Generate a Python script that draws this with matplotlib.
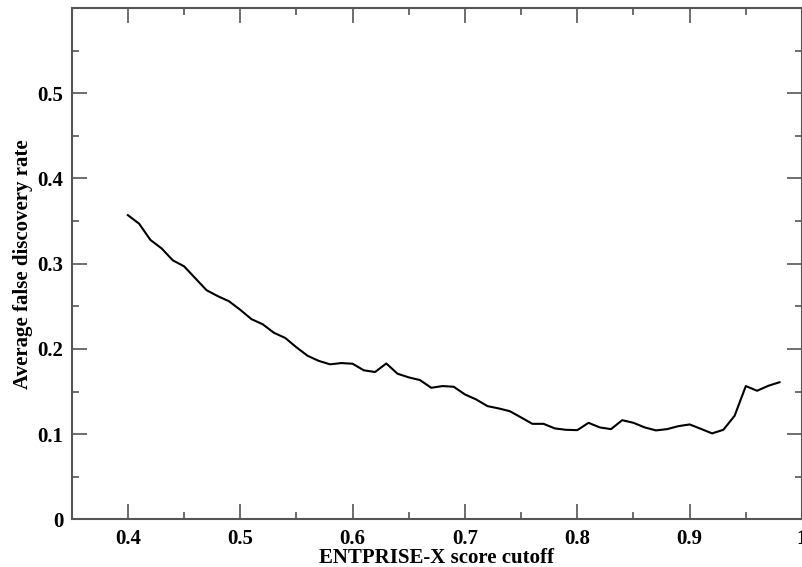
import matplotlib
matplotlib.use("Agg")
import matplotlib.pyplot as plt
from matplotlib.ticker import MultipleLocator, FixedLocator

# score cutoff vs average false discovery rate
cutoff = [0.40, 0.41, 0.42, 0.43, 0.44, 0.45, 0.46, 0.47, 0.48, 0.49,
          0.50, 0.51, 0.52, 0.53, 0.54, 0.55, 0.56, 0.57, 0.58, 0.59,
          0.60, 0.61, 0.62, 0.63, 0.64, 0.65, 0.66, 0.67, 0.68, 0.69,
          0.70, 0.71, 0.72, 0.73, 0.74, 0.75, 0.76, 0.77, 0.78, 0.79,
          0.80, 0.81, 0.82, 0.83, 0.84, 0.85, 0.86, 0.87, 0.88, 0.89,
          0.90, 0.91, 0.92, 0.93, 0.94, 0.95, 0.96, 0.97, 0.98]
fdr = [0.357, 0.347, 0.328, 0.318, 0.304, 0.297, 0.283, 0.269, 0.262, 0.256,
       0.246, 0.235, 0.229, 0.219, 0.213, 0.202, 0.192, 0.186, 0.182, 0.1835,
       0.1827, 0.175, 0.173, 0.183, 0.171, 0.1667, 0.1635, 0.1545, 0.1565, 0.1557,
       0.1467, 0.1408, 0.133, 0.1303, 0.127, 0.1197, 0.1122, 0.1122, 0.1068, 0.1052,
       0.1048, 0.1134, 0.108, 0.106, 0.1165, 0.1134, 0.108, 0.1045, 0.106, 0.1095,
       0.1115, 0.1063, 0.101, 0.1052, 0.1216, 0.1565, 0.151, 0.1568, 0.161]

xticks = [0.4, 0.5, 0.6, 0.7, 0.8, 0.9, 1.0]
xticklabels = ["0.4", "0.5", "0.6", "0.7", "0.8", "0.9", "1"]
yticks = [0, 0.1, 0.2, 0.3, 0.4, 0.5]
yticklabels = ["0", "0.1", "0.2", "0.3", "0.4", "0.5"]

plt.rcParams['font.family'] = ['Liberation Serif', 'DejaVu Serif']
plt.rcParams['font.weight'] = 'bold'

fig = plt.figure(figsize=(8.02, 5.67), dpi=100)
ax = fig.add_axes([0.0894, 0.0838, 0.9106, 0.9021])

ax.plot(cutoff, fdr, color='black', lw=1.5)

ax.set_xlim(0.35, 1.0)
ax.set_ylim(0, 0.6)
ax.xaxis.set_major_locator(FixedLocator(xticks))
ax.set_xticklabels(xticklabels)
ax.yaxis.set_major_locator(FixedLocator(yticks))
ax.set_yticklabels(yticklabels)
ax.xaxis.set_minor_locator(MultipleLocator(0.05))
ax.yaxis.set_minor_locator(MultipleLocator(0.05))

grey = '#555555'
for s in ax.spines.values():
    s.set_color(grey)
    s.set_linewidth(1.5)
ax.tick_params(which='both', direction='in', top=True, right=True,
               color=grey, width=1.2, labelsize=15)
ax.tick_params(axis='x', pad=7)
ax.tick_params(axis='y', pad=6)
ax.tick_params(which='major', length=11)
ax.tick_params(which='minor', length=5)
for lab in ax.get_xticklabels() + ax.get_yticklabels():
    lab.set_fontweight('bold')

ax.set_xlabel('ENTPRISE-X score cutoff', fontsize=15, fontweight='bold', labelpad=-1)
ax.set_ylabel('Average false discovery rate', fontsize=15, fontweight='bold', labelpad=3)

fig.savefig('out.png', dpi=100)
